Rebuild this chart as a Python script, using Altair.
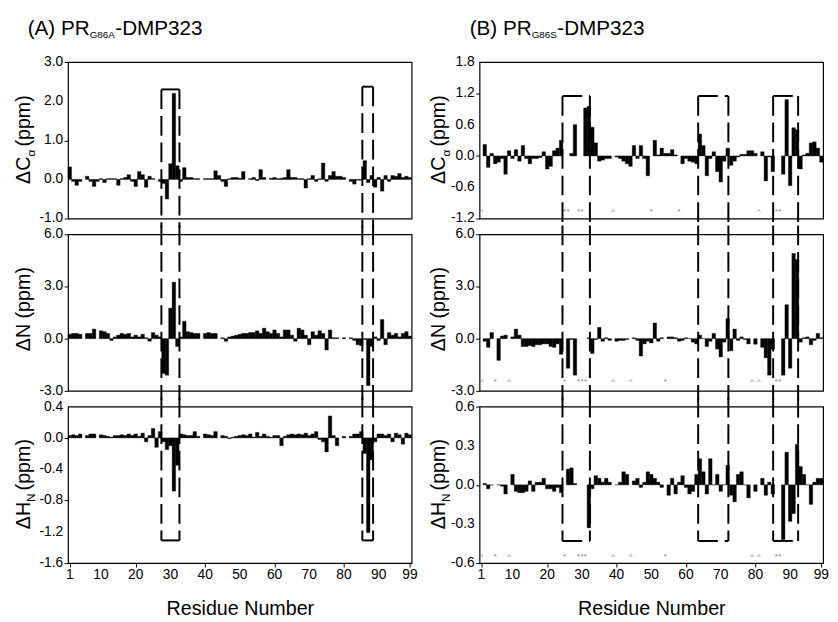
import altair as alt
import pandas as pd

FONT = "Liberation Sans"
residues = list(range(1, 100))
N = None

left_ca = [0.32, -0.05, -0.15, -0.05, N, 0.08, -0.05, -0.18, -0.05, 0.02,
           -0.08, 0.02, 0.02, 0.02, -0.15, 0.02, 0.05, 0.12, -0.05, -0.18,
           0.20, 0.12, -0.20, 0.08, 0.02, N, -0.05, -0.10, -0.50, 0.40,
           2.20, 0.35, -0.05, 0.30, 0.05, 0.05, 0.02, 0.02, N, 0.02,
           0.02, 0.02, 0.22, 0.10, -0.05, -0.18, 0.02, 0.05, 0.05, 0.03,
           0.20, N, 0.02, 0.05, -0.03, 0.25, 0.05, N, 0.03, 0.05,
           0.02, 0.03, 0.05, 0.25, 0.05, 0.05, 0.02, 0.02, -0.22, 0.02,
           0.10, -0.05, 0.02, 0.42, -0.05, 0.10, 0.20, 0.08, 0.08, 0.05,
           N, -0.05, -0.12, -0.02, -0.02, 0.48, -0.08, 0.10, -0.20, 0.05,
           -0.30, 0.10, -0.05, 0.10, 0.08, 0.15, 0.05, 0.08, 0.05]

left_n = [0.25, 0.3, 0.3, 0.25, N, 0.3, 0.3, 0.55, N, 0.45,
          0.4, 0.3, -0.1, 0.1, 0.2, 0.3, 0.25, 0.3, 0.1, 0.2,
          0.1, 0.25, 0.05, -0.15, 0.35, 0.2, 0.1, -2.0, -2.1, 1.75,
          3.25, -0.45, 0.1, 1.0, 0.4, 0.35, 0.3, 0.3, N, 0.3,
          0.35, 0.3, 0.3, N, 0.05, -0.15, 0.1, 0.15, 0.2, 0.25,
          0.3, 0.3, 0.35, 0.35, 0.45, 0.3, 0.6, 0.4, 0.3, 0.5,
          0.3, 0.1, 0.5, 0.5, 0.2, -0.15, 0.6, 0.5, 0.2, -0.35,
          0.4, 0.2, 0.45, 0.3, -0.65, 0.5, 0.05, 0.05, N, 0.05,
          N, 0.05, -0.1, -0.35, -0.4, -0.05, -2.7, -0.45, 0.1, -0.1,
          1.1, -0.35, 0.35, 0.2, 0.3, 0.1, 0.3, 0.4, 0.15]

left_hn = [0.03, 0.04, 0.03, 0.05, N, 0.03, 0.05, 0.05, N, 0.04,
           0.03, 0.02, 0.01, 0.03, 0.03, 0.04, 0.03, 0.05, 0.03, 0.05,
           0.02, 0.06, -0.05, 0.03, 0.12, -0.12, 0.08, -0.05, -0.15, -0.10,
           -0.68, -0.35, 0.05, 0.04, 0.03, 0.03, 0.08, 0.02, N, 0.05,
           0.04, 0.03, 0.08, N, 0.03, 0.02, -0.01, 0.01, 0.02, 0.03,
           0.04, 0.03, 0.05, 0.01, 0.07, 0.02, 0.05, 0.02, 0.01, 0.03,
           0.03, -0.10, 0.02, 0.04, 0.05, 0.04, 0.05, 0.04, 0.06, 0.03,
           0.05, 0.08, -0.02, -0.05, -0.18, 0.28, 0.03, -0.10, N, 0.02,
           N, 0.02, 0.05, 0.05, 0.08, -0.20, -1.21, -0.28, -0.05, 0.05,
           0.05, 0.03, 0.05, -0.05, 0.06, 0.04, -0.08, 0.06, 0.04]

right_ca = [N, 0.22, -0.22, 0.05, -0.15, -0.12, -0.05, -0.35, 0.10, -0.05,
            0.12, -0.10, 0.20, -0.05, -0.15, -0.05, -0.05, -0.03, 0.08, -0.25,
            -0.20, 0.10, 0.15, 0.30, N, N, 0.05, 0.60, N, N,
            0.92, 0.95, 0.55, 0.25, -0.10, -0.08, -0.05, -0.05, N, -0.02,
            -0.05, -0.10, -0.15, -0.20, 0.20, -0.05, 0.20, -0.05, -0.38, N,
            0.30, 0.02, 0.15, 0.05, 0.05, 0.12, 0.02, N, -0.15, -0.05,
            -0.10, -0.12, -0.15, 0.42, 0.20, -0.38, -0.05, 0.08, -0.30, -0.50,
            -0.10, 0.15, -0.18, -0.10, -0.02, 0.03, 0.03, 0.10, 0.10, 0.05,
            N, 0.08, -0.48, -0.02, -0.30, N, N, -0.35, 1.08, -0.57,
            0.54, 0.50, -0.25, 0.02, 0.05, 0.25, 0.27, 0.15, -0.12]

right_n = [N, -0.15, -0.5, 0.35, N, -1.25, 0.15, 0.2, N, 0.1,
           0.55, 0.2, -0.45, -0.45, -0.4, -0.45, -0.35, -0.35, -0.3, -0.3,
           -0.45, -0.5, -0.3, -0.9, N, -1.7, -0.05, -2.1, N, N,
           N, 0.05, -0.85, -0.05, 0.65, -0.15, 0.05, -0.1, N, -0.15,
           -0.1, -0.1, -0.05, N, 0.05, -0.1, -1.0, -0.3, -0.15, -0.25,
           0.9, -0.15, 0.05, N, 0.1, 0.1, 0.05, -0.15, -0.1, 0.05,
           0.0, -0.2, -0.3, 0.2, 0.0, -0.45, -0.15, 0.3, -0.6, -1.05,
           -0.2, 1.15, -0.7, 0.55, -0.1, 0.1, -0.05, -0.3, N, -0.32,
           N, -0.5, -1.1, -2.1, -0.6, N, N, -2.1, 1.95, -1.7,
           4.9, 4.55, -0.2, 0.05, 0.1, -0.35, -0.1, 0.3, 0.05]

right_hn = [N, 0.01, -0.03, 0.0, N, 0.0, -0.01, -0.07, N, 0.08,
            -0.05, -0.06, -0.06, -0.05, 0.03, -0.05, 0.02, 0.02, 0.05, -0.03,
            -0.03, -0.05, -0.02, -0.06, N, 0.12, 0.13, 0.01, N, N,
            N, -0.33, -0.03, 0.07, 0.05, 0.02, 0.05, 0.02, N, 0.0,
            0.02, 0.10, 0.08, N, 0.03, 0.05, -0.02, 0.02, 0.10, 0.08,
            0.05, 0.02, -0.02, N, -0.08, 0.05, -0.07, 0.02, 0.07, -0.02,
            -0.07, -0.05, 0.08, 0.20, 0.10, -0.07, 0.20, 0.0, 0.08, -0.05,
            0.0, 0.15, -0.08, -0.13, 0.08, 0.10, 0.0, -0.10, N, -0.05,
            N, 0.05, -0.08, 0.02, -0.07, N, N, -0.42, 0.25, -0.28,
            -0.22, 0.31, 0.14, 0.08, 0.0, -0.15, 0.02, 0.05, 0.05]

x_ticks = [1, 10, 20, 30, 40, 50, 60, 70, 80, 90, 99]

# dashed boxes: (left residue, right residue, top value in top panel, bottom value in bottom panel)
left_boxes = [(27.4, 32.6, 2.3, -1.31), (85.3, 88.4, 2.37, -1.31)]
right_boxes = [(24.4, 32.3, 1.15, -0.43), (63.5, 72.2, 1.15, -0.43), (85.1, 92.3, 1.15, -0.43)]

# "^" = proline, "*" = unassigned
right_ca_marks = [(1, "^"), (25, "*"), (26, "*"), (29, "*"), (30, "*"), (39, "^"),
                  (50, "*"), (58, "*"), (81, "^"), (86, "*"), (87, "*")]
right_nh_marks = [(1, "^"), (5, "*"), (9, "^"), (25, "*"), (29, "*"), (30, "*"), (31, "*"),
                  (39, "^"), (44, "^"), (54, "*"), (79, "^"), (81, "^"), (86, "*"), (87, "*")]

W, H = 349, 159
GAP = 16
NB = "\u00a0"

EM = {"Δ": 0.668, "C": 0.722, "H": 0.722, "N": 0.722, " ": 0.278, NB: 0.278, "(": 0.333,
      ")": 0.333, "p": 0.556, "m": 0.833, "α": 0.6}


def txt(s, x, y, size, angle=0, color="black"):
    return alt.Chart(pd.DataFrame({"t": [s]})).mark_text(
        align="left", baseline="alphabetic", fontSize=size, angle=angle,
        font=FONT, color=color
    ).encode(x=alt.value(x), y=alt.value(y), text="t:N")


def ylabel(parts, x, center):
    meas = [sum(EM.get(ch, 0.6) * s for ch in t) + (3 if sub else 0) for t, s, sub in parts]
    y = center + sum(meas) / 2
    layers = []
    for (t, s, sub), w in zip(parts, meas):
        layers.append(txt(t, x + (5 if sub else 0), y, s, angle=270))
        y -= w
    return layers


def panel(vals, dom, ticks, boxes, role, ylab, marks=None, mark_y=None, title=None, xlab_x=-39):
    df = pd.DataFrame({"a": residues, "v": vals}).dropna()
    df["a2"] = df["a"] + 0.5
    df["a"] = df["a"] - 0.5
    xs = alt.Scale(domain=[0.5, 99.5], nice=False, zero=False)
    ys = alt.Scale(domain=dom, nice=False, zero=False)
    bot = role == "bot"
    if bot:
        xaxis = alt.Axis(values=x_ticks, tickSize=4, labels=False,
                         title="Residue Number", titleFontSize=20, titleFontWeight="normal",
                         titleFont=FONT, titlePadding=32, domain=False, grid=False,
                         tickColor="black", titleColor="black")
    else:
        xaxis = None
    yaxis = alt.Axis(values=ticks, tickSize=4, labels=False, title=None,
                     domain=False, grid=False, tickColor="black")

    def X(field):
        if bot:
            return alt.X(field, scale=xs)
        return alt.X(field, scale=xs, axis=None)

    def Y(field):
        return alt.Y(field, scale=ys)

    bars = alt.Chart(df).mark_bar(color="black", stroke="black", strokeWidth=0.4).encode(
        x=alt.X("a:Q", scale=xs, axis=xaxis),
        x2="a2:Q",
        y=alt.Y("v:Q", scale=ys, axis=yaxis),
        y2=alt.datum(0),
    )
    unit = (dom[1] - dom[0]) / H
    ext = (GAP / 2 + 1) * unit
    vrows, hrows = [], []
    for xl, xr, top, bt in boxes:
        if role == "top":
            y1, y2 = top, dom[0] - ext
            hrows.append({"a": xl, "a2": xr, "v": top})
        elif role == "mid":
            y1, y2 = dom[1] + ext, dom[0] - ext
        else:
            y1, y2 = dom[1] + ext, bt
            hrows.append({"a": xl, "a2": xr, "v": bt})
        for xv in (xl, xr):
            vrows.append({"a": xv, "v": y1, "v2": y2})
    dash = [20, 7]
    layers = [bars]
    vr = alt.Chart(pd.DataFrame(vrows)).mark_rule(
        color="black", strokeWidth=2, strokeDash=dash, clip=False
    ).encode(x=X("a:Q"), y=Y("v:Q"), y2="v2:Q")
    layers.append(vr)
    if hrows:
        hr = alt.Chart(pd.DataFrame(hrows)).mark_rule(
            color="black", strokeWidth=2, strokeDash=dash
        ).encode(x=X("a:Q"), x2="a2:Q", y=Y("v:Q"))
        layers.append(hr)
    if marks:
        mdf = pd.DataFrame({"a": [m[0] for m in marks], "s": [m[1] for m in marks]})
        mdf["v"] = mark_y
        mk = alt.Chart(mdf).mark_text(fontSize=8, color="#808080", font=FONT).encode(
            x=X("a:Q"), y=Y("v:Q"), text="s:N")
        layers.append(mk)
    # y tick labels
    ydf = pd.DataFrame({"v": ticks})
    ydf["lab"] = [("%.1f" % t).replace("-0.0", "0.0") for t in ticks]
    yl = alt.Chart(ydf).mark_text(align="right", baseline="middle", fontSize=14,
                                  font=FONT, color="black").encode(
        x=alt.value(-5), y=Y("v:Q"), text="lab:N")
    layers.append(yl)
    if bot:
        xdf = pd.DataFrame({"a": x_ticks, "lab": [str(t) for t in x_ticks]})
        xl_ = alt.Chart(xdf).mark_text(align="center", baseline="top", fontSize=14,
                                       font=FONT, color="black").encode(
            x=X("a:Q"), y=alt.value(H + 5), text="lab:N")
        layers.append(xl_)
    layers += ylabel(ylab, xlab_x, 76)
    if title:
        x0, main, sub = title
        layers.append(txt(main, x0, -27, 21))
        layers.append(txt(sub, x0 + 63, -24, 10))
        layers.append(txt("-DMP323", x0 + 63 + 26, -27, 21))
    return alt.layer(*layers).properties(width=W, height=H)


CA = [("ΔC", 20, False), ("α", 12, True), (NB + "(ppm)", 20, False)]
NL = [("ΔN" + NB + "(ppm)", 20, False)]
HN = [("ΔH", 20, False), ("N", 12, True), (NB + "(ppm)", 20, False)]

lt = panel(left_ca, [-1.0, 3.0], [-1.0, 0.0, 1.0, 2.0, 3.0], left_boxes, "top", CA,
           title=(-41, "(A) PR", "G86A"))
lm = panel(left_n, [-3.0, 6.0], [-3.0, 0.0, 3.0, 6.0], left_boxes, "mid", NL)
lb = panel(left_hn, [-1.6, 0.4], [-1.6, -1.2, -0.8, -0.4, 0.0, 0.4], left_boxes, "bot", HN)

rt = panel(right_ca, [-1.2, 1.8], [-1.2, -0.6, 0.0, 0.6, 1.2, 1.8], right_boxes, "top", CA,
           marks=right_ca_marks, mark_y=-1.08, title=(-10, "(B) PR", "G86S"), xlab_x=-35)
rm = panel(right_n, [-3.0, 6.0], [-3.0, 0.0, 3.0, 6.0], right_boxes, "mid", NL,
           marks=right_nh_marks, mark_y=-2.5, xlab_x=-35)
rb = panel(right_hn, [-0.6, 0.6], [-0.6, -0.3, 0.0, 0.3, 0.6], right_boxes, "bot", HN,
           marks=right_nh_marks, mark_y=-0.55, xlab_x=-35)

left = alt.vconcat(lt, lm, lb, spacing=GAP, bounds="flush")
right = alt.vconcat(rt, rm, rb, spacing=GAP, bounds="flush")

chart = alt.hconcat(left, right, spacing=10).properties(
    padding={"left": 5, "top": 5, "right": 0, "bottom": 0}
).configure_view(stroke="black", strokeWidth=1.2)

chart.save("out.html", embed_options={"renderer": "svg", "actions": False})
